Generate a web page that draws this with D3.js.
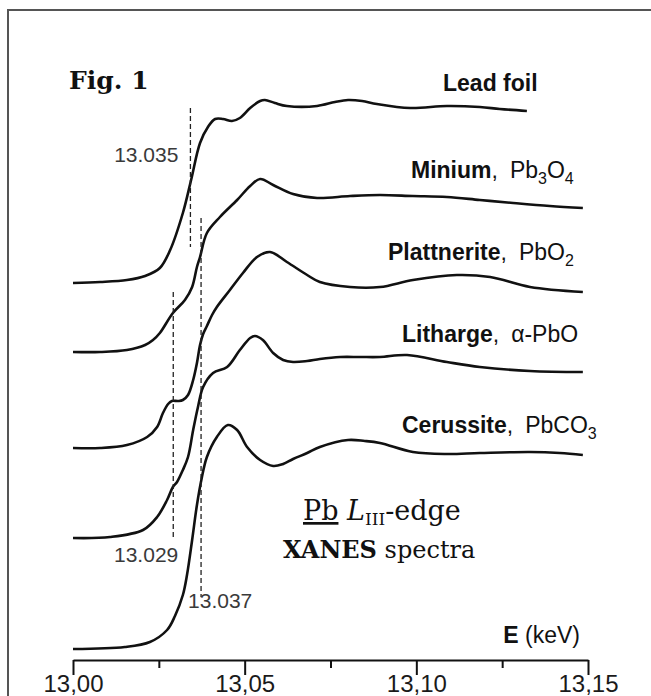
<!DOCTYPE html>
<html>
<head>
<meta charset="utf-8">
<script src="https://cdn.jsdelivr.net/npm/d3@7"></script>
<style>
  body { margin: 0; background: #fff; }
  svg { display: block; }
</style>
</head>
<body>
<div id="chart"></div>
<script>
// Pb L3-edge XANES spectra, energy in keV, absorbance offset per spectrum
const leadFoil = [[13.0000,3.67],[13.0079,3.68],[13.0157,3.70],[13.0210,3.74],[13.0253,3.82],[13.0283,4.00],
  [13.0320,4.37],[13.0344,4.70],[13.0370,5.07],[13.0393,5.23],[13.0414,5.31],[13.0437,5.31],[13.0463,5.29],
  [13.0486,5.32],[13.0516,5.42],[13.0545,5.49],[13.0559,5.50],[13.0588,5.47],[13.0623,5.44],[13.0711,5.44],
  [13.0763,5.48],[13.0801,5.50],[13.0842,5.49],[13.0885,5.46],[13.0982,5.42],[13.1089,5.44],[13.1185,5.43],
  [13.1243,5.41],[13.1322,5.39]]
const minium = [[13.0000,2.98],[13.0079,2.98],[13.0157,3.00],[13.0210,3.05],[13.0233,3.10],[13.0253,3.17],
  [13.0291,3.37],[13.0326,3.50],[13.0347,3.63],[13.0361,3.83],[13.0370,3.93],[13.0390,4.17],[13.0428,4.33],
  [13.0478,4.50],[13.0516,4.64],[13.0545,4.71],[13.0583,4.65],[13.0641,4.56],[13.0711,4.52],[13.0807,4.54],
  [13.0894,4.55],[13.0990,4.54],[13.1089,4.53],[13.1185,4.50],[13.1282,4.47],[13.1389,4.44],[13.1485,4.42]]
const plattnerite = [[13.0000,2.02],[13.0079,2.02],[13.0157,2.05],[13.0216,2.13],[13.0245,2.23],[13.0262,2.37],
  [13.0277,2.46],[13.0288,2.49],[13.0306,2.49],[13.0320,2.50],[13.0335,2.55],[13.0350,2.70],[13.0361,2.87],
  [13.0370,3.05],[13.0379,3.16],[13.0390,3.24],[13.0405,3.35],[13.0419,3.43],[13.0457,3.60],[13.0495,3.77],
  [13.0536,3.93],[13.0574,3.98],[13.0623,3.88],[13.0682,3.75],[13.0719,3.68],[13.0807,3.63],[13.0894,3.63],
  [13.0990,3.70],[13.1118,3.75],[13.1215,3.73],[13.1331,3.63],[13.1485,3.58]]
const litharge = [[13.0000,1.12],[13.0108,1.13],[13.0204,1.20],[13.0245,1.33],[13.0274,1.50],[13.0291,1.63],
  [13.0303,1.68],[13.0320,1.80],[13.0335,1.93],[13.0350,2.20],[13.0364,2.43],[13.0379,2.63],[13.0408,2.77],
  [13.0449,2.83],[13.0486,3.00],[13.0516,3.12],[13.0530,3.14],[13.0553,3.10],[13.0583,2.97],[13.0612,2.90],
  [13.0641,2.88],[13.0682,2.89],[13.0719,2.91],[13.0778,2.93],[13.0836,2.93],[13.0894,2.93],[13.0973,2.95],
  [13.1089,2.88],[13.1185,2.83],[13.1331,2.79],[13.1485,2.78]]
const cerussite = [[13.0000,0.01],[13.0151,0.03],[13.0224,0.08],[13.0274,0.20],[13.0297,0.34],[13.0320,0.55],
  [13.0332,0.75],[13.0347,1.10],[13.0361,1.45],[13.0375,1.72],[13.0390,1.93],[13.0419,2.13],[13.0451,2.25],
  [13.0478,2.20],[13.0507,2.03],[13.0545,1.90],[13.0583,1.84],[13.0612,1.86],[13.0641,1.91],[13.0682,1.97],
  [13.0719,2.03],[13.0801,2.10],[13.0850,2.09],[13.0894,2.07],[13.0990,1.98],[13.1089,1.96],[13.1185,1.97],
  [13.1331,1.98],[13.1418,1.97],[13.1485,1.95]]

const spectra = [leadFoil, minium, plattnerite, litharge, cerussite]
const names = ["Lead foil", "Minium", "Plattnerite", "Litharge", "Cerussite"]
// formula pieces, second item true = subscript
const formulas = [
  [],
  [["Pb",false],["3",true],["O",false],["4",true]],
  [["Pb",false],["O",false],["2",true]],
  [["\u03b1-PbO",false]],
  [["Pb",false],["CO",false],["3",true]]
]

const majorTicks = [13.00, 13.05, 13.10, 13.15]
const minorTicks = [13.025, 13.075, 13.125]
const tickLabels = ["13,00", "13,05", "13,10", "13,15"]

// edge positions (dashed lines)
const markerE = [13.0342, 13.0292, 13.0373]
const markerTop = [5.42, 3.58, 4.32]
const markerBottom = [4.03, 1.12, 0.53]
const markerLabels = ["13.035", "13.029", "13.037"]

const W = 651, H = 696

const svg = d3.select('#chart').append('svg')
  .attr('width', W)
  .attr('height', H)

// outer frame (runs off the right and bottom)
svg.append('rect')
  .attr('x', 8).attr('y', 10)
  .attr('width', 700).attr('height', 700)
  .attr('fill', 'none')
  .attr('stroke', '#555')
  .attr('stroke-width', 2)

const x = d3.scaleLinear().domain([13.0, 13.15]).range([73, 588])
const y = d3.scaleLinear().domain([0, 6.4]).range([650, 10])

const axisY = 660

// minor ticks
svg.append('g')
  .attr('transform', 'translate(0,' + axisY + ')')
  .call(d3.axisBottom(x).tickValues(minorTicks).tickSize(8).tickFormat(''))
  .call(g => g.select('.domain').remove())
  .selectAll('line').attr('stroke', '#111').attr('stroke-width', 2)

// major ticks + axis line
const ax = svg.append('g')
  .attr('transform', 'translate(0,' + axisY + ')')
  .call(d3.axisBottom(x).tickValues(majorTicks).tickSize(15).tickSizeOuter(0)
    .tickFormat((d, i) => tickLabels[i]))
ax.select('.domain').attr('stroke', '#111').attr('stroke-width', 2.2)
ax.selectAll('line').attr('stroke', '#111').attr('stroke-width', 2)
ax.selectAll('text')
  .attr('y', 32)
  .attr('dy', 0)
  .attr('font-family', 'Liberation Sans, Arial, sans-serif')
  .attr('font-size', '24px')
  .attr('fill', '#1a1a1a')

// axis title
const xt = svg.append('text')
  .attr('x', 580).attr('y', 643)
  .attr('text-anchor', 'end')
  .attr('font-family', 'Liberation Sans, Arial, sans-serif')
  .attr('font-size', '23px')
  .attr('fill', '#111')
xt.append('tspan').attr('font-weight', 'bold').text('E')
xt.append('tspan').text(' (keV)')

// spectra
const line = d3.line()
  .x(d => x(d[0]))
  .y(d => y(d[1]))
  .curve(d3.curveCatmullRom.alpha(0.5))

svg.selectAll('path.spec')
  .data(spectra)
  .enter()
  .append('path')
  .attr('class', 'spec')
  .attr('d', line)
  .attr('fill', 'none')
  .attr('stroke', '#111')
  .attr('stroke-width', 2.6)
  .attr('stroke-linejoin', 'round')

// dashed edge markers
svg.selectAll('line.mark')
  .data(markerE)
  .enter()
  .append('line')
  .attr('class', 'mark')
  .attr('x1', d => x(d)).attr('x2', d => x(d))
  .attr('y1', (d, i) => y(markerTop[i]))
  .attr('y2', (d, i) => y(markerBottom[i]))
  .attr('stroke', '#222')
  .attr('stroke-width', 1.3)
  .attr('stroke-dasharray', '5,3')

// marker label layout: [dx from line, y pixel, anchor]
const markerLabelPos = [[-12, 162, 'end'], [5, 562, 'end'], [-13, 608, 'start']]
svg.selectAll('text.mark')
  .data(markerLabels)
  .enter()
  .append('text')
  .attr('class', 'mark')
  .attr('x', (d, i) => x(markerE[i]) + markerLabelPos[i][0])
  .attr('y', (d, i) => markerLabelPos[i][1])
  .attr('text-anchor', (d, i) => markerLabelPos[i][2])
  .attr('font-family', 'Liberation Sans, Arial, sans-serif')
  .attr('font-size', '21px')
  .attr('fill', '#3a3a3a')
  .text(d => d)

// series labels: [x, baseline]
const labelPos = [[443, 91], [411, 178], [388, 260], [402, 342], [402, 433]]
names.forEach((name, i) => {
  const t = svg.append('text')
    .attr('x', labelPos[i][0])
    .attr('y', labelPos[i][1])
    .attr('font-family', 'Liberation Sans, Arial, sans-serif')
    .attr('font-size', '23px')
    .attr('fill', '#111')
  t.append('tspan').attr('font-weight', 'bold').text(name)
  if (formulas[i].length) {
    t.append('tspan').text(',')
    let first = true
    let down = false
    formulas[i].forEach(p => {
      const s = t.append('tspan').text(p[0])
      if (first) { s.attr('dx', 12); first = false }
      if (p[1] && !down) { s.attr('font-size', '16px').attr('dy', 6); down = true }
      else if (!p[1] && down) { s.attr('dy', -6); down = false }
      else if (p[1]) s.attr('font-size', '16px')
    })
  }
})

// figure number
svg.append('text')
  .attr('x', 69).attr('y', 89)
  .attr('font-family', 'DejaVu Serif, serif')
  .attr('font-weight', 'bold')
  .attr('font-size', '25px')
  .attr('fill', '#111')
  .text('Fig. 1')

// caption in the plot
const cap1 = svg.append('text')
  .attr('x', 303).attr('y', 520)
  .attr('font-family', 'DejaVu Serif, serif')
  .attr('font-size', '27px')
  .attr('fill', '#111')
cap1.append('tspan').attr('text-decoration', 'underline').text('Pb')
cap1.append('tspan').text(' ')
cap1.append('tspan').attr('font-style', 'italic').text('L')
cap1.append('tspan').attr('font-size', '17px').attr('dy', 5).text('III')
cap1.append('tspan').attr('dy', -5).text('-edge')

const cap2 = svg.append('text')
  .attr('x', 283).attr('y', 558)
  .attr('font-family', 'DejaVu Serif, serif')
  .attr('font-size', '24px')
  .attr('fill', '#111')
cap2.append('tspan').attr('font-weight', 'bold').text('XANES')
cap2.append('tspan').text(' spectra')
</script>
</body>
</html>
